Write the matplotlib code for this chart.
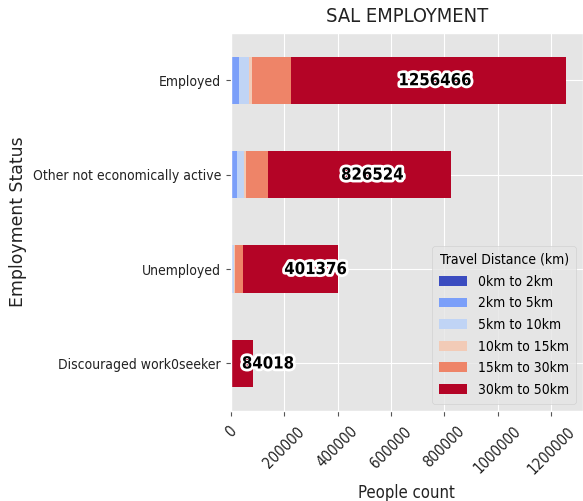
import numpy as np
import pandas as pd
import matplotlib
matplotlib.use('Agg')
import matplotlib.pyplot as plt
import matplotlib.patheffects as pe
from matplotlib import font_manager

plt.style.use('ggplot')

statuses = ['Discouraged work0seeker', 'Unemployed',
            'Other not economically active', 'Employed']
distances = ['0km to 2km', '2km to 5km', '5km to 10km',
             '10km to 15km', '15km to 30km', '30km to 50km']
d_0_2 = [300, 1000, 3000, 2000]
d_2_5 = [800, 4000, 19000, 30000]
d_5_10 = [1000, 8000, 26000, 35000]
d_10_15 = [400, 2000, 8000, 12500]
d_15_30 = [1500, 31000, 85000, 147000]
d_30_50 = [80018, 355376, 685524, 1029966]
totals = [84018, 401376, 826524, 1256466]

df = pd.DataFrame({distances[0]: d_0_2, distances[1]: d_2_5,
                   distances[2]: d_5_10, distances[3]: d_10_15,
                   distances[4]: d_15_30, distances[5]: d_30_50},
                  index=statuses)

# the reference text is narrow, use the condensed DejaVu if it is there
path = font_manager.findfont(font_manager.FontProperties(
    family='DejaVu Sans', stretch='condensed'))
if 'Condensed' in path:
    stretch, k = 'condensed', 1.0
else:
    stretch, k = 'normal', 0.9

fig = plt.figure(figsize=(5.83, 5.01), dpi=100)
ax = fig.add_axes([0.3957, 0.1803, 0.6043, 0.7537])
df.plot.barh(stacked=True, ax=ax, colormap='coolwarm', width=0.5)

for i, t in enumerate(totals):
    ax.text(t / 2, i, str(t), ha='left', va='center', fontsize=12 * k,
            fontweight='bold', fontstretch=stretch, color='black',
            path_effects=[pe.withStroke(linewidth=4, foreground='white')])

ax.set_xlim(0, max(totals) * 1.05)
ax.ticklabel_format(axis='x', style='plain')
ax.tick_params(axis='x', pad=6)
ax.set_xlabel('People count', fontsize=12 * k, fontstretch=stretch,
              color='#222222', labelpad=5)
ax.set_ylabel('Employment Status', fontsize=12.4, color='#222222')
ax.set_title('SAL EMPLOYMENT', fontsize=14.4 * k, fontstretch=stretch,
             color='#222222', pad=8)
for lab in ax.get_yticklabels():
    lab.set_fontstretch(stretch)
    lab.set_fontsize(10 * k)
    lab.set_color('#222222')
for lab in ax.get_xticklabels():
    lab.set_fontstretch(stretch)
    lab.set_fontsize(10.8 * k)
    lab.set_color('#222222')
plt.setp(ax.get_xticklabels(), rotation=45)
leg = ax.legend(title='Travel Distance (km)', loc='lower right',
                prop={'size': 10 * k, 'stretch': stretch},
                labelspacing=0.55, borderpad=0.5)
leg.get_title().set_fontsize(10 * k)
leg.get_title().set_fontstretch(stretch)

fig.savefig('out.png', dpi=100)
